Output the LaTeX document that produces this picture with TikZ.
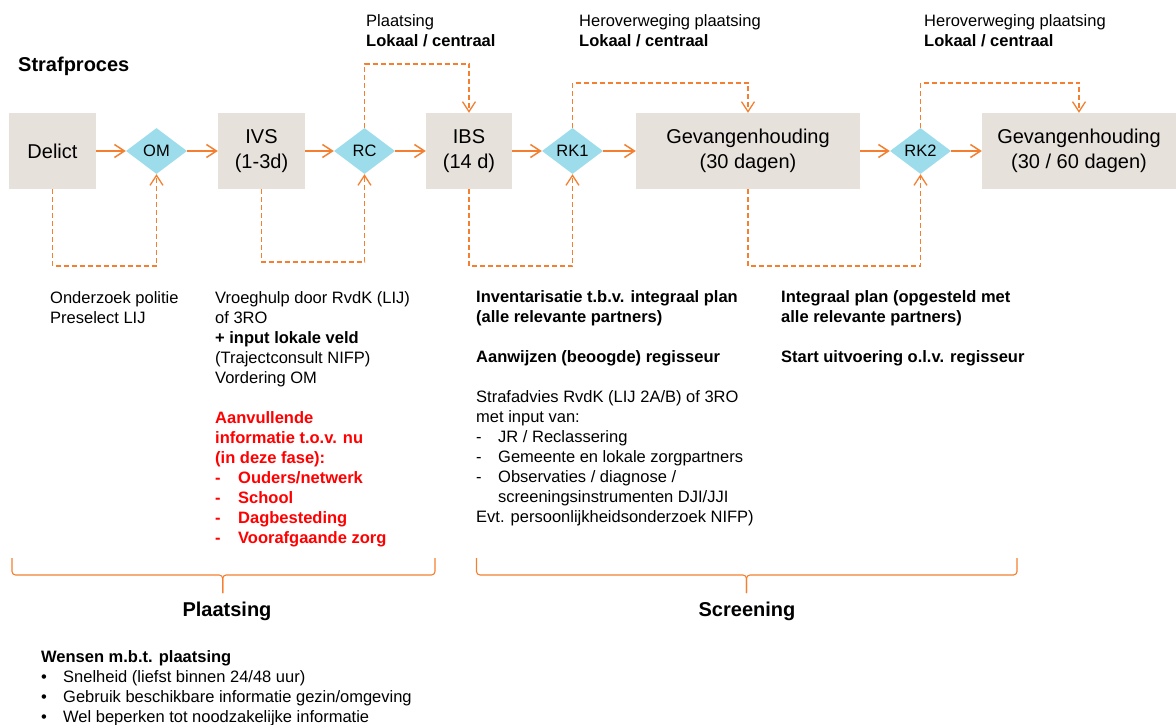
\documentclass[tikz,border=0pt]{standalone}
\usepackage{fontspec}
\setmainfont{Liberation Sans}
\usetikzlibrary{arrows.meta,shapes.geometric}
\definecolor{boxfill}{HTML}{E7E1DB}
\definecolor{dia}{HTML}{9DDDEB}
\definecolor{org}{HTML}{F47F30}
\newcommand\fsz{\fontsize{16.5}{20}\selectfont}
\newcommand\fbig{\fontsize{20}{25}\selectfont}
\begin{document}
\begin{tikzpicture}[x=1pt,y=-1pt,
  stepbox/.style={fill=boxfill, draw=none, inner sep=0pt, align=center, font=\fbig, minimum height=76pt},
  gate/.style={diamond, fill=dia, draw=none, inner sep=0pt, minimum width=61pt, minimum height=46pt, font=\fsz},
  flow/.style={draw=org, line width=1.5pt, -{Straight Barb[length=10pt,width=13pt]}},
  dflow/.style={draw=org, line width=1.6pt, dash pattern=on 5pt off 3pt, -{Straight Barb[length=10pt,width=13pt,line width=1.3pt]}},
  txt/.style={anchor=north west, inner sep=0pt, align=left, font=\fsz},
  brace/.style={draw=org, line width=1.1pt, rounded corners=3.5pt}]
\useasboundingbox (0,0) rectangle (1176,725);

% title
\node[anchor=base west, inner sep=0pt, font=\fontsize{20}{24}\selectfont\bfseries] (title) at (18,72) {Strafproces};

% process boxes
\node[stepbox, minimum width=87pt] (delict) at (52.5,151) {Delict};
\node[gate] (om) at (156.5,151) {OM};
\node[stepbox, minimum width=87pt] (ivs) at (261.5,151) {IVS\\(1-3d)};
\node[gate] (rc) at (364.5,151) {RC};
\node[stepbox, minimum width=86pt] (ibs) at (469,151) {IBS\\(14 d)};
\node[gate] (rk1) at (572.5,151) {RK1};
\node[stepbox, minimum width=224pt] (gev1) at (748,151) {Gevangenhouding\\(30 dagen)};
\node[gate] (rk2) at (920.5,151) {RK2};
\node[stepbox, minimum width=194pt] (gev2) at (1079,151) {Gevangenhouding\\(30 / 60 dagen)};

% solid arrows
\draw[flow] (delict) -- (om);
\draw[flow] (om) -- (ivs);
\draw[flow] (ivs) -- (rc);
\draw[flow] (rc) -- (ibs);
\draw[flow] (ibs) -- (rk1);
\draw[flow] (rk1) -- (gev1);
\draw[flow] (gev1) -- (rk2);
\draw[flow] (rk2) -- (gev2);

% dashed arrows below
\draw[dflow] (delict.south) -- ++(0,77) -| (om.south);
\draw[dflow] (ivs.south) -- ++(0,73) -| (rc.south);
\draw[dflow] (ibs.south) -- ++(0,77) -| (rk1.south);
\draw[dflow] (gev1.south) -- ++(0,77) -| (rk2.south);
% dashed arrows above
\draw[dflow] (rc.north) -- ++(0,-64) -| (ibs.north);
\draw[dflow] (rk1.north) -- ++(0,-45) -| (gev1.north);
\draw[dflow] (rk2.north) -- ++(0,-45) -| (gev2.north);

% top labels
\node[txt] (lab1) at (366,12) {\strut Plaatsing\\\textbf{Lokaal / centraal}};
\node[txt] (lab2) at (579,12) {\strut Heroverweging plaatsing\\\textbf{Lokaal / centraal}};
\node[txt] (lab3) at (924,12) {\strut Heroverweging plaatsing\\\textbf{Lokaal / centraal}};

% column texts
\node[txt] (t1) at (50,289) {\strut Onderzoek politie\\Preselect LIJ};
\node[txt] (t2) at (215,289) {\strut Vroeghulp door RvdK (LIJ)\\of 3RO\\\textbf{+ input lokale veld}\\(Trajectconsult NIFP)\\Vordering OM};
\node[txt, font=\fsz\bfseries, text={red}] (t3) at (215,409) {\strut Aanvullende\\informatie t.o.v. nu\\(in deze fase):\\\makebox[23pt][l]{-}Ouders/netwerk\\\makebox[23pt][l]{-}School\\\makebox[23pt][l]{-}Dagbesteding\\\makebox[23pt][l]{-}Voorafgaande zorg};
\node[txt] (t4) at (476,288) {\strut\textbf{Inventarisatie t.b.v. integraal plan}\\\textbf{(alle relevante partners)}\\[20pt]\textbf{Aanwijzen (beoogde) regisseur}\\[20pt]Strafadvies RvdK (LIJ 2A/B) of 3RO\\met input van:\\\makebox[22pt][l]{-}JR / Reclassering\\\makebox[22pt][l]{-}Gemeente en lokale zorgpartners\\\makebox[22pt][l]{-}Observaties / diagnose /\\\hspace*{22pt}screeningsinstrumenten DJI/JJI\\Evt. persoonlijkheidsonderzoek NIFP)};
\node[txt] (t5) at (781,288) {\strut\textbf{Integraal plan (opgesteld met}\\\textbf{alle relevante partners)}\\[20pt]\textbf{Start uitvoering o.l.v. regisseur}};

% braces
\draw[brace] (12,558) -- (12,575) -- (222.7,575) -- (222.7,593);
\draw[brace] (435,558) -- (435,575) -- (222.7,575) -- (222.7,593);
\draw[brace] (476.5,558) -- (476.5,575) -- (746.5,575) -- (746.5,593);
\draw[brace] (1017,558) -- (1017,575) -- (746.5,575) -- (746.5,593);
\node[anchor=base, inner sep=0pt, font=\fontsize{20}{24}\selectfont\bfseries] (ph1) at (227,616) {Plaatsing};
\node[anchor=base, inner sep=0pt, font=\fontsize{20}{24}\selectfont\bfseries] (ph2) at (747,616) {Screening};

% wishes
\node[txt] (t6) at (41,648) {\strut\textbf{Wensen m.b.t. plaatsing}\\\makebox[22pt][l]{\textbullet}Snelheid (liefst binnen 24/48 uur)\\\makebox[22pt][l]{\textbullet}Gebruik beschikbare informatie gezin/omgeving\\\makebox[22pt][l]{\textbullet}Wel beperken tot noodzakelijke informatie};
\end{tikzpicture}
\end{document}
